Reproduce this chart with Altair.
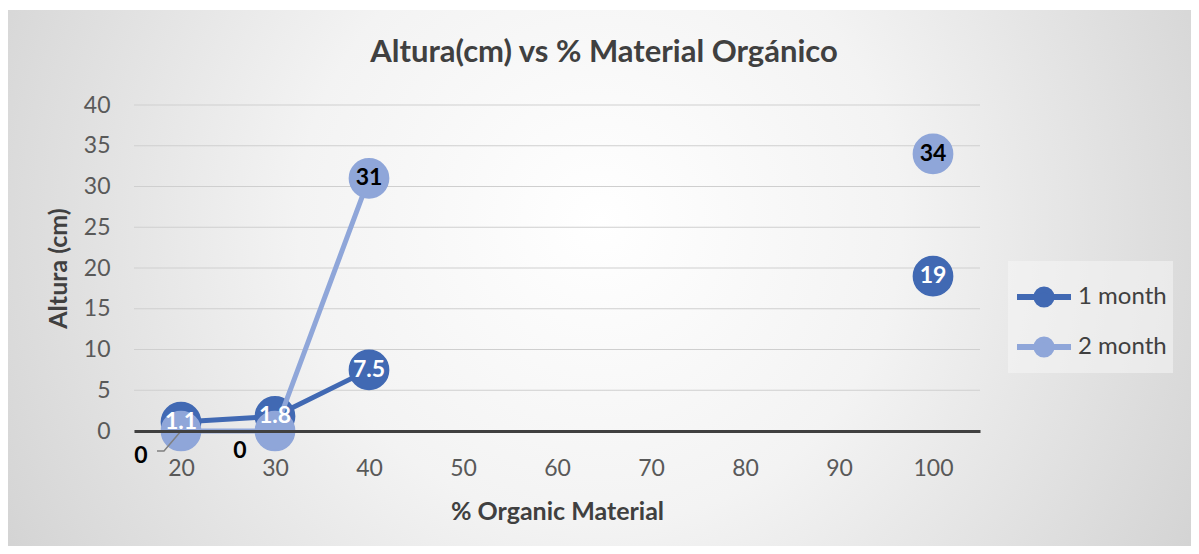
import altair as alt
import pandas as pd

categories = ["20", "30", "40", "50", "60", "70", "80", "90", "100"]
month1 = [1.1, 1.8, 7.5, None, None, None, None, None, 19]
month2 = [0, 0, 31, None, None, None, None, None, 34]
series_names = ["1 month", "2 month"]
series_colors = ["#4169B3", "#8FA6D9"]
y_ticks = [0, 5, 10, 15, 20, 25, 30, 35, 40]

rows = []
for c, a, b in zip(categories, month1, month2):
    rows.append({"cat": c, "series": "1 month", "value": a,
                 "label": None if a is None else f"{a:g}"})
    rows.append({"cat": c, "series": "2 month", "value": b,
                 "label": None if b is None else f"{b:g}"})
df = pd.DataFrame(rows)

FONT = "Lato"
W, H = 846, 326
LAB = 23

legend_path = ("M-1,0L1,0M-0.28,0A0.28,0.28,0,1,0,0.28,0"
               "A0.28,0.28,0,1,0,-0.28,0Z")
legend = alt.Legend(title=None, orient="none", legendX=874, legendY=156,
                    symbolType=legend_path, symbolSize=2916,
                    symbolStrokeWidth=6, labelFontSize=24, labelFont=FONT,
                    labelColor="#404040", rowPadding=-9, padding=6,
                    fillColor="rgba(245,245,245,0.55)", labelOffset=4)
cscale = alt.Scale(domain=series_names, range=series_colors)
xscale = alt.Scale(type="point", domain=categories, padding=0.5)
yscale = alt.Scale(domain=[0, 40], nice=False)

x_axis = alt.Axis(title="% Organic Material", labelAngle=0,
                  ticks=False, labelPadding=26,
                  labelFontSize=23, labelColor="#595959",
                  labelFont=FONT, titleFont=FONT, titleFontSize=25,
                  titleFontWeight="bold", titleColor="#404040",
                  titlePadding=19, domainColor="#404040",
                  domainWidth=3, grid=False, zindex=1)
y_axis = alt.Axis(values=y_ticks, title="Altura (cm)", ticks=False,
                  domain=False, labelPadding=24, labelFontSize=23,
                  labelColor="#595959", labelFont=FONT,
                  titleFont=FONT, titleFontSize=25,
                  titleFontWeight="bold", titleColor="#404040",
                  titlePadding=12, grid=False, zindex=1)

x_enc = alt.X("cat:O", sort=categories, scale=xscale, axis=x_axis)
y_enc = alt.Y("value:Q", scale=yscale, axis=y_axis)

base = alt.Chart(df).encode(x=x_enc, y=y_enc)

bg = alt.Chart(pd.DataFrame({"k": [0]})).mark_rect(
    fill=alt.RadialGradient(
        gradient="radial", x1=0.5, y1=0.45, x2=0.5, y2=0.45, r1=0, r2=0.72,
        stops=[alt.GradientStop(color="#ffffff", offset=0),
               alt.GradientStop(color="#f3f3f3", offset=0.35),
               alt.GradientStop(color="#d6d6d6", offset=0.75),
               alt.GradientStop(color="#c2c2c2", offset=1)]),
    clip=False).encode(x=alt.value(-134), x2=alt.value(1065),
                       y=alt.value(-95), y2=alt.value(449))

grid = alt.Chart(pd.DataFrame({"value": y_ticks})).mark_rule(
    color="#cfcfcf", strokeWidth=1.2).encode(
    y=alt.Y("value:Q", scale=yscale, axis=y_axis),
    x=alt.value(0), x2=alt.value(W))


def line_layer(name):
    return base.transform_filter(alt.datum.series == name).mark_line(
        strokeWidth=5, invalid="break-paths-filter-domains").encode(
        stroke=alt.Stroke("series:N", scale=cscale, legend=legend))


def point_layer(name):
    return base.transform_filter(
        (alt.datum.series == name) & alt.expr.isValid(alt.datum.value)
    ).mark_point(filled=True, size=1500, opacity=1).encode(
        fill=alt.Fill("series:N", scale=cscale, legend=legend),
        stroke=alt.Stroke("series:N", scale=cscale, legend=legend))


lab1 = base.transform_filter(
    (alt.datum.series == "1 month") & alt.expr.isValid(alt.datum.value)
).mark_text(color="white", fontWeight="bold", fontSize=LAB, font=FONT,
            baseline="middle").encode(text="label:N")
lab2 = base.transform_filter(
    (alt.datum.series == "2 month") & (alt.datum.value > 0)
).mark_text(color="black", fontWeight="bold", fontSize=LAB, font=FONT,
            baseline="middle").encode(text="label:N")
zero20 = base.transform_filter(
    (alt.datum.series == "2 month") & (alt.datum.cat == "20")
).mark_text(color="black", fontWeight="bold", fontSize=LAB, font=FONT,
            baseline="middle", dx=-40, dy=25).encode(text="label:N")
zero30 = base.transform_filter(
    (alt.datum.series == "2 month") & (alt.datum.cat == "30")
).mark_text(color="black", fontWeight="bold", fontSize=LAB, font=FONT,
            baseline="middle", dx=-35, dy=20).encode(text="label:N")
leader = base.transform_filter(
    (alt.datum.series == "2 month") & (alt.datum.cat == "20")
).mark_point(shape="M0,0L-0.85,1.0L-1.2,1.0", size=1600, filled=False,
             color="#808080", strokeWidth=1.5, opacity=1)

chart = alt.layer(
    bg, grid,
    line_layer("1 month"), point_layer("1 month"),
    line_layer("2 month"), point_layer("2 month"),
    leader, lab1, lab2, zero20, zero30,
).properties(
    width=W, height=H,
    autosize=alt.AutoSizeParams(type="none"),
    padding={"left": 126, "top": 97, "right": 211, "bottom": 115},
    title=alt.Title("Altura(cm) vs % Material Orgánico", font=FONT,
                    fontSize=31, fontWeight="bold", color="#404040",
                    anchor="middle", dx=47, offset=-59, frame="group"),
).configure(background="white").configure_view(stroke=None)

chart.save("out.html", embed_options={"renderer": "svg", "actions": False})
